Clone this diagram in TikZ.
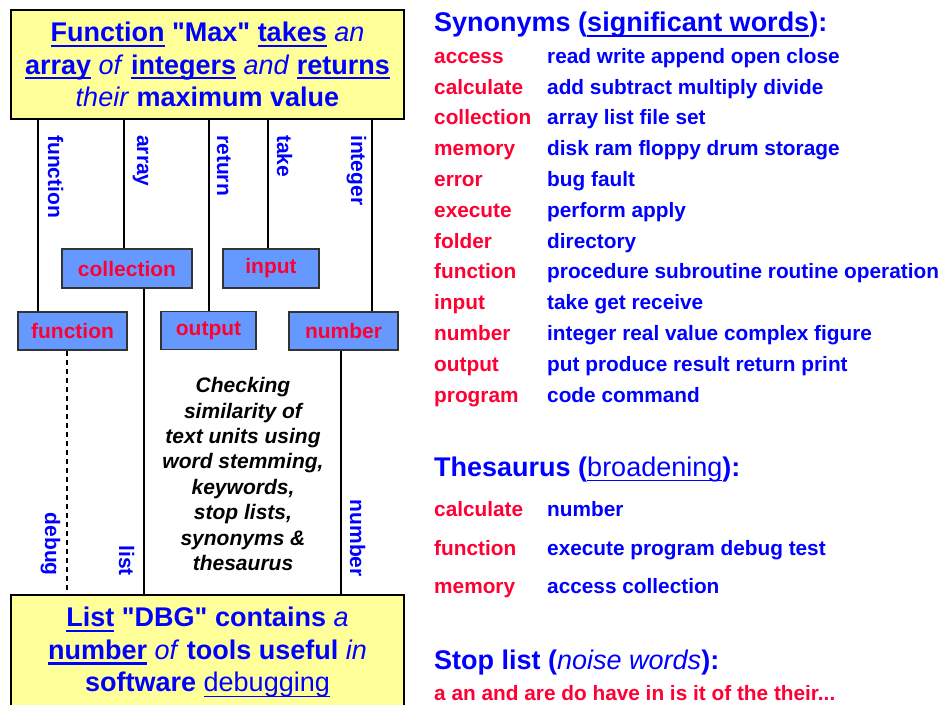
\documentclass[tikz,border=0pt]{standalone}
\usepackage{fontspec}
\setmainfont{Liberation Sans}[Ligatures=TeXOff]
\definecolor{txtblue}{RGB}{0,0,255}
\definecolor{txtred}{RGB}{255,0,51}
\definecolor{boxblue}{RGB}{102,153,255}
\definecolor{boxyellow}{RGB}{255,255,153}
% 下划线 (underlined word)
\newsavebox{\uwordbox}
\newcommand{\uword}[2][2.2pt]{\sbox{\uwordbox}{#2}\rlap{\rule[-5.2pt]{\wd\uwordbox}{#1}}\usebox{\uwordbox}}

\begin{document}
\begin{tikzpicture}[x=1pt, y=-1pt]
    % --- 样式定义 ---
    \tikzstyle{bigbox}=[draw=black, line width=2.5pt, fill=boxyellow, text=txtblue, align=center, inner sep=0pt, minimum width=393pt, font=\fontsize{27}{32.5}\selectfont]
    \tikzstyle{wordbox}=[draw=black!80, line width=1.3pt, fill=boxblue, text=txtred, inner sep=0pt, font=\fontsize{21}{25}\selectfont\bfseries]
    \tikzstyle{vword}=[rotate=-90, text=txtblue, inner sep=0pt, font=\fontsize{21}{25}\selectfont\bfseries]
    \tikzstyle{link}=[line width=1.2pt]
    \tikzstyle{keyword}=[anchor=base west, inner sep=0pt, text=txtred, font=\fontsize{20.8}{25}\selectfont\bfseries]
    \tikzstyle{synword}=[keyword, text=txtblue]
    \tikzstyle{heading}=[anchor=base west, inner sep=0pt, text=txtblue, font=\fontsize{27}{32}\selectfont]

    \useasboundingbox (0,0) rectangle (950,704);

    % ====== 左侧: 两个句子 (The two sentences) ======
    \node[bigbox, minimum height=109pt] (maxbox) at (207.5,64.5)
        {\textbf{\uword{Function} "Max" \uword{takes}} \textit{an}\\
         \textbf{\uword{array}} \textit{of} \textbf{\uword{integers}} \textit{and} \textbf{\uword{returns}}\\
         \textit{their} \textbf{maximum value}};
    \node[bigbox, minimum height=115pt] (dbgbox) at (207.5,652.5)
        {\textbf{\uword{List} "DBG" contains} \textit{a}\\
         \textbf{\uword{number}} \textit{of} \textbf{tools useful} \textit{in}\\
         \textbf{software} \uword[1.5pt]{debugging}};

    % 概念框
    \node[wordbox, minimum width=130pt, minimum height=39pt] (collbox) at (127,268.5) {collection};
    \node[wordbox, minimum width=96pt, minimum height=39pt] (inbox) at (271,268.5) {input};
    \node[wordbox, minimum width=109pt, minimum height=38pt] (fnbox) at (72.5,331) {function};
    \node[wordbox, minimum width=95pt, minimum height=38pt] (outbox) at (208.5,330.5) {output};
    \node[wordbox, minimum width=109pt, minimum height=38pt] (numbox) at (343.5,331) {number};

    % 上面的连线
    \draw[link] (maxbox.south -| 38,0) -- (fnbox.north -| 38,0);
    \draw[link] (maxbox.south -| 124,0) -- (collbox.north -| 124,0);
    \draw[link] (maxbox.south -| 209,0) -- (outbox.north -| 209,0);
    \draw[link] (maxbox.south -| 268,0) -- (inbox.north -| 268,0);
    \draw[link] (maxbox.south -| 372,0) -- (numbox.north -| 372,0);
    \node[vword, anchor=base west] (wfunction) at (48,135) {function};
    \node[vword, anchor=base west] (warray) at (137,135) {array};
    \node[vword, anchor=base west] (wreturn) at (217,135) {return};
    \node[vword, anchor=base west] (wtake) at (277,135) {take};
    \node[vword, anchor=base west] (winteger) at (351,135) {integer};

    % 下面的连线
    \draw[link, dash pattern=on 5pt off 4pt] (fnbox.south -| 67,0) -- (dbgbox.north -| 67,0);
    \draw[link] (collbox.south -| 144,0) -- (dbgbox.north -| 144,0);
    \draw[link] (numbox.south -| 341,0) -- (dbgbox.north -| 341,0);
    \node[vword, anchor=base east] (wdebug) at (45,576) {debug};
    \node[vword, anchor=base east] (wlist) at (119,576) {list};
    \node[vword, anchor=base east] (wnumber) at (350,577) {number};

    % 中间说明
    \node[align=center, inner sep=0pt, font=\fontsize{21}{25.4}\selectfont\bfseries\itshape] (note) at (243,474)
        {Checking\\similarity of\\text units using\\word stemming,\\keywords,\\stop lists,\\synonyms \&\\thesaurus};

    % ====== 右侧: 同义词 (Synonyms) ======
    \node[heading] (synhead) at (434,31.7) {\textbf{Synonyms (\uword{significant words}):}};
    \foreach \key/\syns [count=\i] in {access/read write append open close,
        calculate/add subtract multiply divide, collection/array list file set,
        memory/disk ram floppy drum storage, error/bug fault, execute/perform apply,
        folder/directory, function/procedure subroutine routine operation,
        input/take get receive, number/integer real value complex figure,
        output/put produce result return print, program/code command} {
        \node[keyword] (synkey\i) at (434,{63.3+30.8*(\i-1)}) {\key};
        \node[synword] (synval\i) at (547,{63.3+30.8*(\i-1)}) {\syns};
    }

    % 同义词扩展 (Thesaurus)
    \node[heading] (thhead) at (434,476) {\textbf{Thesaurus (}\uword[1.3pt]{broadening}\textbf{):}};
    \foreach \key/\syns [count=\i] in {calculate/number, function/execute program debug test,
        memory/access collection} {
        \node[keyword] (thkey\i) at (434,{516.7+38.3*(\i-1)}) {\key};
        \node[synword] (thval\i) at (547,{516.7+38.3*(\i-1)}) {\syns};
    }

    % 停用词 (Stop list)
    \node[heading] (stophead) at (434,669.3) {\textbf{Stop list (}\textit{noise words}\textbf{):}};
    \node[keyword] (stopwords) at (434,700.5) {a an and are do have in is it of the their...};
\end{tikzpicture}
\end{document}
